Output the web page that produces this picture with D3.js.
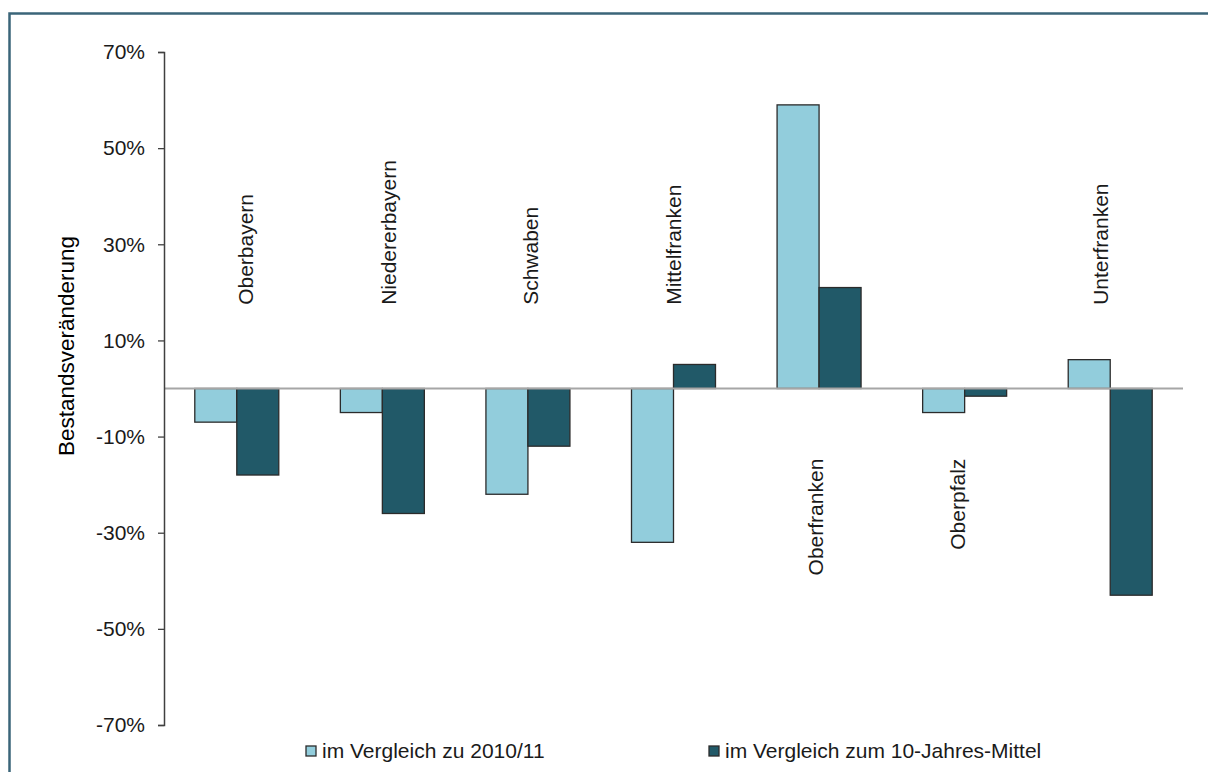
<!DOCTYPE html>
<html>
<head>
<meta charset="utf-8">
<script src="https://cdn.jsdelivr.net/npm/d3@7"></script>
<style>
  html, body { margin: 0; padding: 0; background: #fff; }
  svg { display: block; font-family: "Liberation Sans", Arial, sans-serif; }
</style>
</head>
<body>
<svg id="chart" width="1208" height="772"></svg>
<script>
const categories = ["Oberbayern", "Niedererbayern", "Schwaben", "Mittelfranken", "Oberfranken", "Oberpfalz", "Unterfranken"];
const seriesNames = ["im Vergleich zu 2010/11", "im Vergleich zum 10-Jahres-Mittel"];
const vs2010 = [-7, -5, -22, -32, 59, -5, 6];
const vsMean = [-18, -26, -12, 5, 21, -1.6, -43];
const labelSide = ["top", "top", "top", "top", "bottom", "bottom", "top"];
const yTicks = [70, 50, 30, 10, -10, -30, -50, -70];

const colors = ["#92CDDC", "#215968"];
const textColor = "#1a1a1a";
const svg = d3.select("#chart");

// outer frame
svg.append("rect")
  .attr("x", 9.5).attr("y", 13.5)
  .attr("width", 1215).attr("height", 775)
  .attr("fill", "none").attr("stroke", "#3B6579").attr("stroke-width", 2.5);

const plotL = 164, plotR = 1183, plotT = 52, plotB = 725;
const y = d3.scaleLinear().domain([-70, 70]).range([plotB, plotT]);
const x0 = d3.scaleBand().domain(categories).range([plotL, plotR])
  .paddingInner(0.423).paddingOuter(0.2115);
const x1 = d3.scaleBand().domain([0, 1]).range([0, x0.bandwidth()]);
const xl = d3.scaleBand().domain(categories).range([175, 1172]);

const data = categories.map((c, i) => ({ cat: c, vals: [vs2010[i], vsMean[i]] }));

// bars
const g = svg.append("g");
data.forEach(d => {
  d.vals.forEach((v, k) => {
    g.append("rect")
      .attr("x", x0(d.cat) + x1(k))
      .attr("width", x1.bandwidth())
      .attr("y", y(Math.max(0, v)))
      .attr("height", Math.abs(y(v) - y(0)))
      .attr("fill", colors[k])
      .attr("stroke", "#2b2b2b")
      .attr("stroke-width", 1.3);
  });
});

// zero line
svg.append("line")
  .attr("x1", plotL).attr("x2", plotR)
  .attr("y1", y(0)).attr("y2", y(0))
  .attr("stroke", "#A6A6A6").attr("stroke-width", 2);

// y axis
const yAxis = svg.append("g")
  .attr("transform", `translate(${plotL},0)`)
  .call(d3.axisLeft(y).tickValues(yTicks).tickFormat(d => d + "%").tickSize(6).tickPadding(13));
yAxis.select(".domain").attr("stroke", "#404040").attr("stroke-width", 1.5);
yAxis.selectAll(".tick line").attr("stroke", "#404040").attr("stroke-width", 1.3);
yAxis.selectAll(".tick text")
  .attr("font-size", 21).attr("fill", textColor)
  .attr("font-family", "Liberation Sans, Arial, sans-serif");

// y title
svg.append("text")
  .attr("transform", `translate(74,346) rotate(-90)`)
  .attr("text-anchor", "middle")
  .attr("font-size", 22.5)
  .attr("fill", "#000")
  .text("Bestandsveränderung");

// category labels
categories.forEach((c, i) => {
  const cx = xl(c) + xl.bandwidth() / 2;
  const isTop = labelSide[i] === "top";
  svg.append("text")
    .attr("transform", `translate(${cx + 7},${isTop ? y(17.4) : y(-14.6)}) rotate(-90)`)
    .attr("text-anchor", isTop ? "start" : "end")
    .attr("font-size", 21)
    .attr("fill", textColor)
    .text(c);
});

// legend
const legendX = [306, 709];
seriesNames.forEach((name, k) => {
  svg.append("rect")
    .attr("x", legendX[k]).attr("y", 746)
    .attr("width", 10).attr("height", 10)
    .attr("fill", colors[k]).attr("stroke", "#2b2b2b").attr("stroke-width", 1.3);
  svg.append("text")
    .attr("x", legendX[k] + 16).attr("y", 758)
    .attr("font-size", 21).attr("fill", textColor)
    .text(name);
});
</script>
</body>
</html>
